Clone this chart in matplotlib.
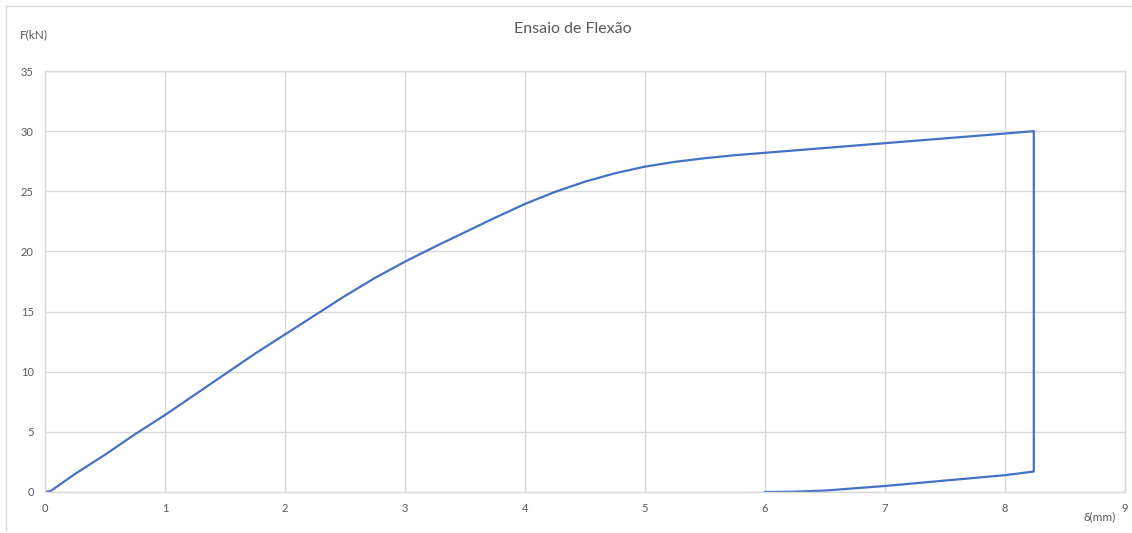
import matplotlib.pyplot as plt
from matplotlib.lines import Line2D

plt.rcParams['font.family'] = ['Lato', 'DejaVu Sans']

# loading branch, deflection (mm) vs force (kN)
defl_load = [0.0, 0.05, 0.25, 0.5, 0.75, 1.0, 1.25, 1.5, 1.75, 2.0, 2.25, 2.5, 2.75,
             3.0, 3.25, 3.5, 3.75, 4.0, 4.25, 4.5, 4.75, 5.0, 5.25, 5.5, 5.75,
             6.0, 6.5, 7.0, 7.5, 8.0, 8.24]
force_load = [0.0, 0.1, 1.5, 3.1, 4.8, 6.4, 8.1, 9.8, 11.5, 13.1, 14.7, 16.3, 17.8,
              19.15, 20.4, 21.6, 22.8, 23.95, 24.95, 25.8, 26.5, 27.05, 27.45, 27.75, 28.0,
              28.2, 28.6, 29.0, 29.4, 29.8, 30.0]
# unloading branch
defl_unload = [8.24, 8.24, 8.0, 7.5, 7.0, 6.5, 6.25, 6.0]
force_unload = [30.0, 1.7, 1.4, 0.95, 0.5, 0.12, 0.03, 0.0]

xticks = list(range(0, 10))
yticks = list(range(0, 36, 5))

grey_txt = '#595959'
grid_c = '#d9d9d9'

fig = plt.figure(figsize=(11.32, 5.33), dpi=100)
ax = fig.add_axes([45 / 1132, 1 - 492 / 533, 1080 / 1132, 421 / 533])

ax.plot(defl_load + defl_unload, force_load + force_unload, color='#4472C4', lw=1.6)

ax.set_xlim(0, 9)
ax.set_ylim(0, 35)
ax.set_xticks(xticks)
ax.set_yticks(yticks)
ax.grid(True, color=grid_c, lw=1)
ax.set_axisbelow(True)
for s in ax.spines.values():
    s.set_color(grid_c)
    s.set_linewidth(1)
ax.tick_params(length=0, labelsize=8, labelcolor=grey_txt, pad=8)

fig.text(573 / 1132, 1 - 29 / 533, 'Ensaio de Flexão', ha='center', va='center',
         fontsize=11.5, color=grey_txt)
fig.text(20 / 1132, 1 - 35 / 533, 'F(kN)', ha='left', va='center',
         fontsize=8.5, color=grey_txt)
fig.text(1100 / 1132, 1 - 517 / 533, 'δ(mm)', ha='center', va='center',
         fontsize=8.5, color=grey_txt)

# outer chart frame (top and left edges)
fig.add_artist(Line2D([6 / 1132, 1], [1 - 6 / 533] * 2, transform=fig.transFigure,
                      color=grid_c, lw=1))
fig.add_artist(Line2D([6 / 1132] * 2, [1 - 6 / 533, 0.005], transform=fig.transFigure,
                      color=grid_c, lw=1))

fig.savefig('out.png', dpi=100)
